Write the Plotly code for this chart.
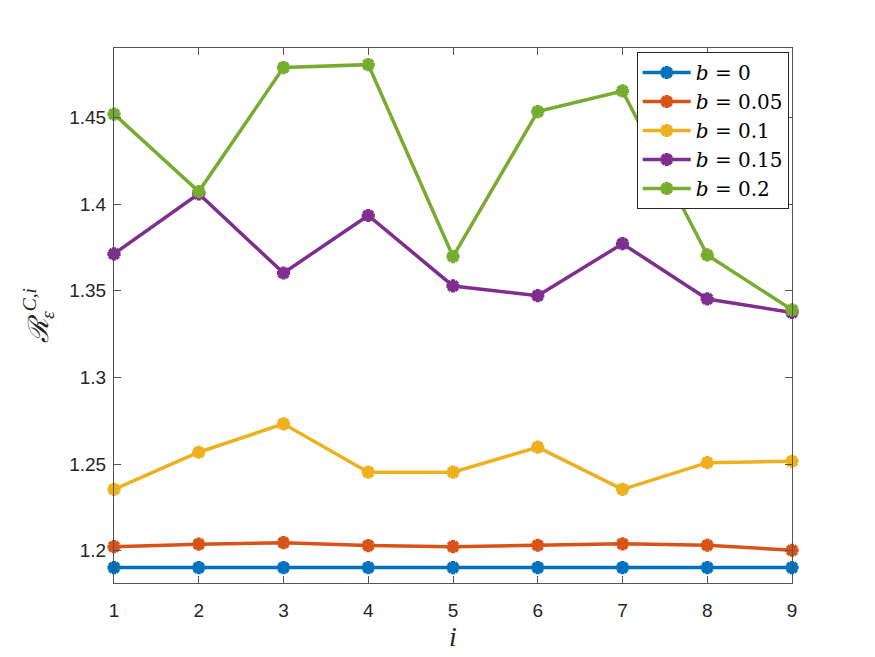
import plotly.graph_objects as go

i_vals = [1, 2, 3, 4, 5, 6, 7, 8, 9]
b_labels = ["0", "0.05", "0.1", "0.15", "0.2"]
r_b000 = [1.1902, 1.1902, 1.1902, 1.1902, 1.1902, 1.1902, 1.1902, 1.1902, 1.1902]
r_b005 = [1.2023, 1.2037, 1.2046, 1.2029, 1.2023, 1.2031, 1.2039, 1.2031, 1.2002]
r_b010 = [1.2354, 1.2568, 1.2732, 1.2453, 1.2453, 1.2597, 1.2354, 1.2508, 1.2516]
r_b015 = [1.3713, 1.4060, 1.3603, 1.3935, 1.3528, 1.3472, 1.3772, 1.3453, 1.3375]
r_b020 = [1.4520, 1.4073, 1.4789, 1.4806, 1.3698, 1.4535, 1.4654, 1.3707, 1.3390]
series = [r_b000, r_b005, r_b010, r_b015, r_b020]
colors = ["#0072BD", "#D95319", "#EDB120", "#7E2F8E", "#77AC30"]
y_ticks = [1.2, 1.25, 1.3, 1.35, 1.4, 1.45]
y_ticktext = ["1.2", "1.25", "1.3", "1.35", "1.4", "1.45"]

fig = go.Figure()
for lab, ys, c in zip(b_labels, series, colors):
    fig.add_trace(go.Scatter(
        x=i_vals, y=ys, mode="lines+markers",
        name=f"<i>b</i> = {lab}",
        line=dict(color=c, width=3.5),
        marker=dict(symbol="asterisk-open", size=11, color=c,
                    line=dict(color=c, width=4)),
        cliponaxis=False,
    ))

axis_common = dict(
    showgrid=False, zeroline=False, showline=True, mirror="ticks",
    linecolor="#555555", linewidth=1, ticks="inside", ticklen=7,
    tickcolor="#555555", automargin=False,
    tickfont=dict(family="Liberation Sans", size=19, color="#262626"),
)

fig.update_layout(
    width=875, height=657,
    margin=dict(l=114, r=83, t=48, b=74),
    paper_bgcolor="white", plot_bgcolor="white",
    xaxis=dict(range=[1, 9], tickvals=i_vals, ticklabelstandoff=10,
               title=dict(text="<i>i</i>", standoff=3,
                          font=dict(family="Liberation Serif", size=28, color="#262626")),
               **axis_common),
    yaxis=dict(range=[1.1813, 1.4902], tickvals=y_ticks, ticktext=y_ticktext,
               ticklabelstandoff=3,
               title=dict(text="<i>ℛ</i><sub><i>ε</i></sub><sup><i>C,i</i></sup>", standoff=12,
                          font=dict(family="Liberation Serif", size=28, color="#262626")),
               **axis_common),
    legend=dict(x=0.771, y=0.9925, xanchor="left", yanchor="top",
                bgcolor="white", bordercolor="#262626", borderwidth=1,
                font=dict(family="DejaVu Serif", size=20, color="#000000"),
                itemwidth=48, tracegroupgap=0),
    showlegend=True,
)

fig.write_html("out.html")
